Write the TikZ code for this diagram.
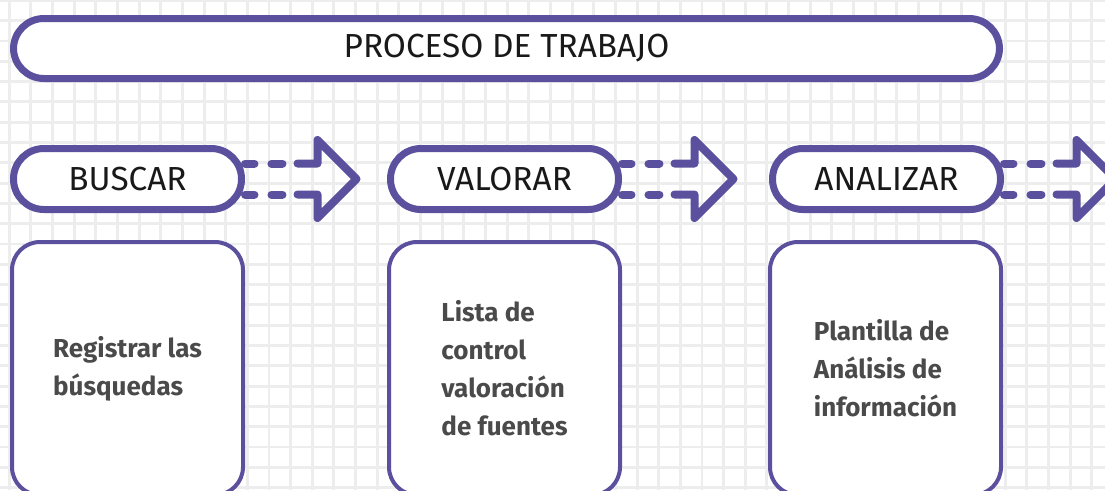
\documentclass[tikz,border=0pt]{standalone}
\usepackage{fontspec}
\setmainfont{Fira Sans}
\usepackage{tikz}
\usetikzlibrary{positioning,calc}
\definecolor{lila}{RGB}{91,80,158}
\definecolor{texto}{RGB}{74,74,74}
\definecolor{rejilla}{RGB}{237,237,237}

\begin{document}
\begin{tikzpicture}[x=0.75pt,y=-0.75pt]
\tikzset{
  pill/.style={draw=lila,line width=5.25pt,fill=white,rounded corners=22.8pt,minimum width=171pt,minimum height=45.75pt,inner sep=0pt,font=\fontsize{25}{30}\selectfont,text=black!90},
  caja/.style={draw=lila,line width=3pt,fill=white,rounded corners=21pt,minimum width=173.25pt,minimum height=189.75pt,align=left,font=\bfseries\fontsize{19.5}{28.5}\selectfont,text=texto},
  guion/.style={draw=lila,line width=6pt,line cap=round,dash pattern=on 7.1pt off 12.75pt on 8.25pt off 50pt},
  punta/.style={draw=lila,line width=6pt,line cap=round,line join=round}
}
\useasboundingbox (0,0) rectangle (1105,490);
% background grid
\begin{scope}
\clip (0,0) rectangle (1105,490);
\foreach \i in {0,...,50} \draw[rejilla,line width=2.2pt] (9.2+21.65*\i,0) -- ++(0,490);
\foreach \j in {0,...,24} \draw[rejilla,line width=2.2pt] (0,0.4+20.3*\j) -- ++(1105,0);
\end{scope}
% title bar
\node[pill,minimum width=739.5pt,minimum height=45pt] (proceso) at (506.5,48.5){PROCESO DE TRABAJO};
% steps
\node[pill] (buscar) at (127.5,179){BUSCAR};
\node[pill] (valorar) at (504.5,179){VALORAR};
\node[pill] (analizar) at (886.5,179){ANALIZAR};
% arrows
\foreach \p in {buscar,valorar,analizar}{
  \coordinate (\p-h) at ($(\p.east)+(72.5,0)$);
  \draw[guion] ($(\p.east)+(0,-15.5)$) -- ($(\p-h)+(-20,-15.5)$);
  \draw[guion] ($(\p.east)+(0,15.5)$) -- ($(\p-h)+(-20,15.5)$);
  \draw[punta] ($(\p-h)+(-20,-15.5)$) -- ($(\p-h)+(0,-15.5)$) -- ($(\p-h)+(0,-39)$)
    -- ($(\p-h)+(39,0)$) -- ($(\p-h)+(0,39)$) -- ($(\p-h)+(0,15.5)$) -- ($(\p-h)+(-20,15.5)$);
}
% tools
\node[caja] (registro) at (127.5,368.5){Registrar las\\búsquedas};
\node[caja] (lista) at (504.5,368.5){Lista de\\control\\valoración\\de fuentes};
\node[caja] (plantilla) at (885.5,368.5){Plantilla de\\Análisis de\\información};
\end{tikzpicture}
\end{document}
